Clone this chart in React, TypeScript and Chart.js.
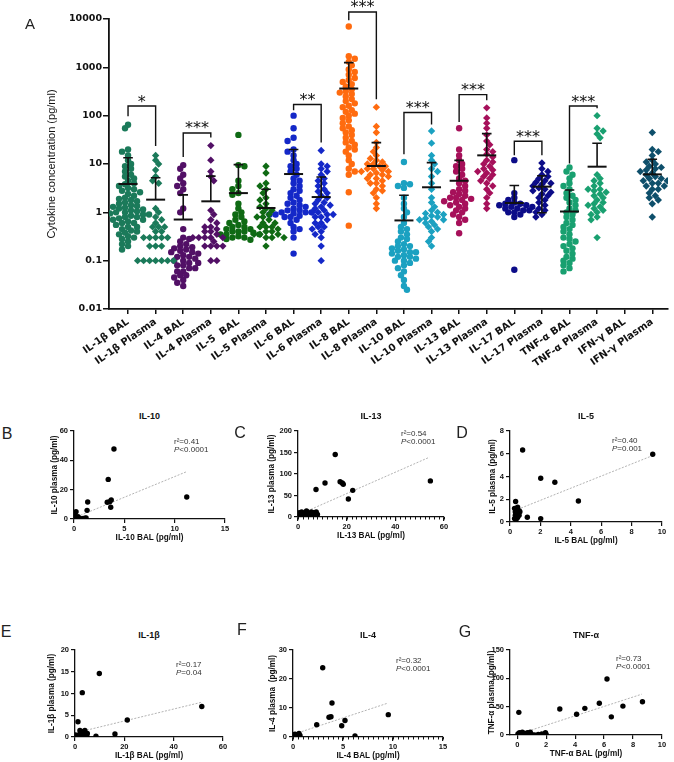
import React, { useEffect, useRef } from "react";
import { Chart, registerables } from "chart.js";

Chart.register(...registerables);

const TXT = "'Liberation Sans', Arial, Helvetica, sans-serif";
const WIDE = "'DejaVu Sans', 'Liberation Sans', sans-serif";

// ---------------- Panel A data ----------------
const categories = [
  "IL-1β BAL", "IL-1β Plasma", "IL-4 BAL", "IL-4 Plasma", "IL-5  BAL", "IL-5 Plasma",
  "IL-6 BAL", "IL-6 Plasma", "IL-8 BAL", "IL-8 Plasma", "IL-10 BAL", "IL-10 Plasma",
  "IL-13 BAL", "IL-13 Plasma", "IL-17 BAL", "IL-17 Plasma", "TNF-α BAL", "TNF-α Plasma",
  "IFN-γ BAL", "IFN-γ Plasma",
];
const yTickValues = [0.01, 0.1, 1, 10, 100, 1000, 10000];
const yTickLabels = ["0.01", "0.1", "1", "10", "100", "1000", "10000"];

const il1bBAL = [65, 55, 20, 18, 15, 12, 10, 9, 8, 7, 6, 5.5, 5, 4.5, 4, 3.8, 3.5, 3.2, 3, 2.8, 2.6, 2.4, 2.2, 2, 1.9, 1.8, 1.7, 1.6, 1.5, 1.4, 1.35, 1.3, 1.25, 1.2, 1.15, 1.1, 1.05, 1, 1, 0.95, 0.9, 0.9, 0.85, 0.8, 0.8, 0.75, 0.7, 0.7, 0.65, 0.6, 0.6, 0.55, 0.5, 0.5, 0.45, 0.42, 0.4, 0.38, 0.35, 0.32, 0.3, 0.28, 0.25, 0.22, 0.2, 0.17];
const il1bPlasma = [15, 12, 10, 7.5, 5.5, 4.5, 4, 1.2, 1, 0.8, 0.7, 0.6, 0.5, 0.5, 0.5, 0.4, 0.4, 0.3, 0.3, 0.3, 0.3, 0.3, 0.2, 0.2, 0.2, 0.1, 0.1, 0.1, 0.1, 0.1, 0.1, 0.1];
const il4BAL = [9.5, 8, 6, 5, 4, 3.5, 3, 2.5, 1.2, 1, 0.45, 0.3, 0.28, 0.25, 0.22, 0.2, 0.19, 0.18, 0.17, 0.16, 0.15, 0.15, 0.14, 0.13, 0.12, 0.12, 0.11, 0.1, 0.1, 0.09, 0.09, 0.08, 0.08, 0.07, 0.07, 0.06, 0.06, 0.05, 0.05, 0.045, 0.04, 0.035, 0.03];
const il4Plasma = [24, 12, 7, 5.5, 4.5, 1.1, 0.9, 0.7, 0.6, 0.5, 0.5, 0.45, 0.4, 0.4, 0.35, 0.3, 0.3, 0.3, 0.3, 0.3, 0.25, 0.2, 0.2, 0.2, 0.2, 0.1, 0.1];
const il5BAL = [40, 9.5, 9, 4.5, 3.5, 3, 2.5, 2.3, 1.5, 1.2, 1, 0.9, 0.8, 0.7, 0.65, 0.6, 0.55, 0.5, 0.5, 0.45, 0.45, 0.4, 0.4, 0.4, 0.38, 0.35, 0.35, 0.35, 0.32, 0.3, 0.3, 0.28, 0.27];
const il5Plasma = [9, 6.5, 4, 3.5, 3, 2.5, 2, 1.8, 1.5, 1.3, 1.2, 1.1, 1, 0.9, 0.8, 0.8, 0.7, 0.6, 0.6, 0.5, 0.5, 0.5, 0.45, 0.4, 0.4, 0.35, 0.35, 0.35, 0.3, 0.3, 0.3, 0.2];
const il6BAL = [100, 55, 35, 30, 20, 18, 15, 12, 10, 9, 8, 7, 6, 5, 4.5, 4, 3.5, 3, 2.8, 2.5, 2.2, 2, 1.8, 1.6, 1.5, 1.4, 1.3, 1.2, 1.1, 1.1, 1, 1, 1, 0.95, 0.9, 0.9, 0.85, 0.8, 0.8, 0.7, 0.6, 0.5, 0.45, 0.4, 0.3, 0.14];
const il6Plasma = [19, 10, 9, 8, 7, 6, 5, 4.5, 4, 3.5, 3, 2.7, 2.5, 2.2, 2, 1.8, 1.6, 1.5, 1.4, 1.3, 1.2, 1.1, 1, 1, 0.9, 0.9, 0.8, 0.8, 0.7, 0.6, 0.6, 0.5, 0.5, 0.45, 0.4, 0.35, 0.3, 0.2, 0.1];
const il8BAL = [7000, 1700, 1500, 1300, 1100, 900, 800, 700, 600, 550, 500, 450, 400, 350, 320, 300, 280, 250, 220, 200, 180, 160, 150, 130, 120, 110, 100, 90, 80, 70, 60, 55, 50, 45, 40, 35, 30, 28, 25, 22, 20, 18, 15, 12, 10, 8, 7, 6, 2.6, 0.53];
const il8Plasma = [150, 60, 45, 28, 22, 18, 15, 13, 12, 11, 10, 10, 9, 9, 8, 8, 7.5, 7, 7, 6.5, 6, 6, 5.5, 5, 5, 4.5, 4, 4, 3.5, 3, 2.8, 2.5, 2, 1.5, 1.2];
const il10BAL = [11, 4, 3.8, 3.5, 3.2, 2, 1.5, 1.2, 1, 0.8, 0.6, 0.5, 0.45, 0.4, 0.35, 0.3, 0.28, 0.25, 0.22, 0.2, 0.2, 0.18, 0.17, 0.16, 0.15, 0.15, 0.14, 0.13, 0.12, 0.12, 0.11, 0.1, 0.1, 0.09, 0.08, 0.07, 0.06, 0.05, 0.04, 0.03, 0.025];
const il10Plasma = [48, 27, 15, 12, 10, 8, 7, 5.5, 4, 3, 2, 1.6, 1.3, 1.1, 1, 0.95, 0.9, 0.85, 0.8, 0.75, 0.7, 0.7, 0.65, 0.6, 0.55, 0.5, 0.45, 0.4, 0.3, 0.25, 0.2];
const il13BAL = [55, 20, 15, 12, 10, 9, 8, 7, 6, 5, 4.5, 4, 3.5, 3, 2.8, 2.6, 2.4, 2.2, 2, 2, 1.9, 1.8, 1.7, 1.6, 1.5, 1.4, 1.3, 1.2, 1.1, 1, 0.9, 0.8, 0.7, 0.6, 0.37];
const il13Plasma = [145, 90, 70, 55, 40, 30, 25, 20, 18, 16, 14, 12, 11, 10, 9, 8, 7.5, 7, 6.5, 6, 5.5, 5, 4.5, 4, 3.5, 3, 2.5, 2, 1.5, 1.2];
const il17BAL = [12, 2.5, 2, 1.8, 1.6, 1.5, 1.5, 1.4, 1.4, 1.3, 1.3, 1.2, 1.2, 1.1, 1.1, 1, 1, 0.9, 0.8, 0.065];
const il17Plasma = [10.5, 8, 7, 6, 5.5, 5, 4.5, 4.2, 4, 3.8, 3.5, 3.2, 3, 2.8, 2.6, 2.4, 2.2, 2, 1.8, 1.6, 1.4, 1.2, 1.1, 1, 0.9, 0.8];
const tnfBAL = [8.5, 7, 6, 5, 4, 3.5, 3, 2.5, 2.2, 2, 1.8, 1.6, 1.4, 1.2, 1.1, 1, 0.9, 0.8, 0.7, 0.6, 0.55, 0.5, 0.45, 0.4, 0.35, 0.3, 0.28, 0.25, 0.22, 0.2, 0.18, 0.16, 0.14, 0.12, 0.11, 0.1, 0.09, 0.08, 0.07, 0.06];
const tnfPlasma = [100, 55, 48, 42, 35, 6, 5, 4.5, 4, 3.5, 3, 3, 2.8, 2.6, 2.4, 2.2, 2, 1.8, 1.6, 1.5, 1.4, 1.3, 1.2, 1.1, 1, 0.9, 0.8, 0.7, 0.3];
const ifngBAL: number[] = [];
const ifngPlasma = [45, 20, 18, 15, 12, 11, 10, 9, 8.5, 8, 7.5, 7, 6.5, 6, 5.5, 5, 5, 4.5, 4.5, 4, 4, 3.5, 3.5, 3, 3, 2.5, 2.2, 2, 1.8, 1.5, 0.8];

const seriesValues = [il1bBAL, il1bPlasma, il4BAL, il4Plasma, il5BAL, il5Plasma, il6BAL, il6Plasma, il8BAL, il8Plasma, il10BAL, il10Plasma, il13BAL, il13Plasma, il17BAL, il17Plasma, tnfBAL, tnfPlasma, ifngBAL, ifngPlasma];

const groupMeans = [3.86, 1.83, 0.71, 1.69, 2.5, 1.23, 6.2, 2.07, 364, 9.1, 0.68, 3.3, 4.5, 15.1, 1.56, 3.4, 1.04, 8.8, null, 6.1];
const groupSdUpper = [13.5, 5.2, 2.3, 5.6, 9.7, 3.0, 20, 5.4, 1254, 27.7, 2.25, 10.7, 11.9, 42.6, 3.6, 5.7, 2.9, 26.8, null, 12.5];
const groupSdLower = [null, null, null, null, null, null, null, null, null, null, null, null, null, null, null, 0.98, null, null, null, null];

// [left group, right group, top, left foot, right foot, label]
const sigBrackets: [number, number, number, number, number, string][] = [
  [0, 1, 158, 97, 23.6, "*"],
  [2, 3, 43.9, 14, 35.2, "***"],
  [6, 7, 170, 129, 27.7, "**"],
  [8, 9, 14000, 9400, 219, "***"],
  [10, 11, 116, 15.9, 66, "***"],
  [12, 13, 273, 74, 208, "***"],
  [14, 15, 29.5, 15.1, 15.1, "***"],
  [16, 17, 158, 10.3, 142, "***"],
];

const seriesColors = [
  "#1b7a5a", "#1b7a5a", "#521066", "#521066", "#0f6a14", "#0f6a14", "#1428c8", "#1428c8",
  "#ff6b0f", "#ff6b0f", "#1ba1c1", "#1ba1c1", "#a6105a", "#a6105a", "#0c0c88", "#0c0c88",
  "#19a070", "#19a070", "#0e4f6b", "#0e4f6b",
];

// ---------------- Panels B-G data: [BAL, plasma] ----------------
const il10Pairs = [[3.97, 47.7], [3.4, 27], [1.36, 11.6], [1.3, 5.9], [3.3, 11.4], [3.7, 13], [3.55, 11.8], [3.65, 8], [11.2, 15], [0.2, 5], [0.1, 2], [0.2, 1], [0.3, 0.5], [0.6, 0.4], [0.9, 0.3], [1.2, 0.8], [0.05, 0.2], [0.15, 0.1], [0.4, 1.6], [1.1, 0.5]];
const il10Fit = [0, 0.7, 11.2, 32.3];
const il13Pairs = [[15.3, 145.5], [11.1, 79], [7.4, 64], [17.3, 82], [18.2, 79], [18.6, 76], [22.5, 62], [20.7, 42], [54.4, 84], [0.5, 10], [1, 5], [1.5, 12], [2, 8], [2.5, 3], [3, 10], [3.5, 14], [4, 6], [4.5, 9], [5, 2], [5.5, 12], [6, 5], [6.5, 10], [7, 3], [7.5, 12], [8, 6], [0.2, 2], [1.2, 0], [2.8, 1], [4.2, 0]];
const il13Fit = [0, 4.6, 54, 139];
const il5Pairs = [[0.83, 6.33], [9.39, 5.95], [2.02, 3.84], [2.95, 3.5], [4.5, 1.85], [0.37, 1.8], [2.02, 0.3], [1.14, 0.42], [0.3, 1.2], [0.35, 0.9], [0.4, 0.7], [0.45, 0.5], [0.5, 1.3], [0.55, 0.8], [0.6, 0.6], [0.3, 0.3], [0.4, 0.2], [0.5, 0.4], [0.6, 1], [0.65, 0.9], [0.45, 1.1], [0.35, 0.6]];
const il5Fit = [0.3, 1.0, 9.5, 5.9];
const il1bPairs = [[9.86, 14.6], [2.96, 10.2], [1.2, 3.5], [21.2, 3.9], [51.4, 7], [16.2, 0.7], [8.5, 0.2], [0.5, 0.3], [1, 0.1], [1.5, 0.5], [2, 1.5], [2.5, 0.2], [3, 1.2], [3.5, 0.5], [4, 1.5], [4.5, 0.3], [5, 0.8], [0.2, 0.5], [1.8, 0.2], [3.2, 0.1], [2.2, 0.8], [4.8, 0.1]];
const il1bFit = [2, 1.2, 51.4, 8];
const il4Pairs = [[2.97, 23.9], [3.9, 11.7], [3.6, 6.8], [3.8, 7], [2.37, 4.2], [5.2, 5.7], [4.87, 3.9], [6.2, 0.4], [9.53, 7.7], [0.1, 0.5], [0.2, 1], [0.3, 0.2], [0.4, 0.8], [0.5, 0.3], [0.6, 1.2], [0.1, 0], [0.2, 0.1], [0.7, 0.5], [0.35, 0.6]];
const il4Fit = [0.2, 1.1, 9.5, 11.7];
const tnfPairs = [[6.2, 98.8], [8.65, 58.8], [7.3, 51], [6.5, 32], [5.67, 56], [4.67, 47], [4.1, 36.5], [2.94, 45.8], [0.11, 40], [0.05, 2], [0.15, 4], [0.25, 1], [0.35, 5], [0.45, 3], [0.55, 0], [0.7, 4], [0.85, 2], [1, 1], [1.2, 0], [1.45, 1], [1.7, 2], [1.95, 4], [0.3, 0], [0.6, 2], [0.9, 5], [2, 1], [1.6, 0]];
const tnfFit = [0.28, 3, 8.6, 72];

const panels = [
  { letter: "B", title: "IL-10", xTitle: "IL-10 BAL (pg/ml)", yTitle: "IL-10 plasma (pg/ml)", pairs: il10Pairs, fit: il10Fit, r2: "0.41", p: "<0.0001", xRange: [0, 15], xTicks: [0, 5, 10, 15], yRange: [0, 60], yTicks: [0, 20, 40, 60], minor: 0, box: { l: 74, r: 225, t: 431, b: 519, yw: 28 }, letterPos: [7, 434], statPos: [174, 442] },
  { letter: "C", title: "IL-13", xTitle: "IL-13 BAL (pg/ml)", yTitle: "IL-13 plasma (pg/ml)", pairs: il13Pairs, fit: il13Fit, r2: "0.54", p: "<0.0001", xRange: [0, 60], xTicks: [0, 20, 40, 60], yRange: [0, 200], yTicks: [0, 50, 100, 150, 200], minor: 2, box: { l: 298, r: 444, t: 431, b: 517, yw: 35 }, letterPos: [240, 433], statPos: [401, 434] },
  { letter: "D", title: "IL-5", xTitle: "IL-5 BAL (pg/ml)", yTitle: "IL-5 plasma (pg/ml)", pairs: il5Pairs, fit: il5Fit, r2: "0.40", p: "=0.001", xRange: [0, 10], xTicks: [0, 2, 4, 6, 8, 10], yRange: [0, 8], yTicks: [0, 2, 4, 6, 8], minor: 0, box: { l: 510, r: 662, t: 431, b: 522, yw: 26 }, letterPos: [462, 433], statPos: [612, 441] },
  { letter: "E", title: "IL-1β", xTitle: "IL-1β BAL (pg/ml)", yTitle: "IL-1β plasma (pg/ml)", pairs: il1bPairs, fit: il1bFit, r2: "0.17", p: "=0.04", xRange: [0, 60], xTicks: [0, 20, 40, 60], yRange: [0, 20], yTicks: [0, 5, 10, 15, 20], minor: 0, box: { l: 75, r: 223, t: 650, b: 737, yw: 32 }, letterPos: [6, 632], statPos: [176, 665] },
  { letter: "F", title: "IL-4", xTitle: "IL-4 BAL (pg/ml)", yTitle: "IL-4 plasma  (pg/ml)", pairs: il4Pairs, fit: il4Fit, r2: "0.32", p: "<0.0001", xRange: [0, 15], xTicks: [0, 5, 10, 15], yRange: [0, 30], yTicks: [0, 10, 20, 30], minor: 0.5, box: { l: 293, r: 443, t: 650, b: 737, yw: 29 }, letterPos: [242, 630], statPos: [396, 661] },
  { letter: "G", title: "TNF-α", xTitle: "TNF-α BAL (pg/ml)", yTitle: "TNF-α plasma (pg/ml)", pairs: tnfPairs, fit: tnfFit, r2: "0.73", p: "<0.0001", xRange: [-0.5, 10], xTicks: [0, 2, 4, 6, 8, 10], yRange: [0, 150], yTicks: [0, 50, 100, 150], minor: 0, box: { l: 510, r: 662, t: 650, b: 735, yw: 27 }, letterPos: [465, 632], statPos: [616, 659] },
];

// ---------------- helpers ----------------
function swarm(values: number[], center: number) {
  const PX_PER_DECADE = 48.33;
  const PX_PER_CATEGORY = 27.59;
  const STEP = 3.0;
  const MIN_DIST = 4.6;
  const sorted = [...values].sort((a, b) => b - a);
  const placed: { dx: number; py: number }[] = [];
  return sorted.map((v, idx) => {
    const py = -Math.log10(v) * PX_PER_DECADE;
    const sign = idx % 2 === 0 ? 1 : -1;
    let dx = 0;
    for (let k = 0; k < 80; k++) {
      const cand = k === 0 ? 0 : (k % 2 === 1 ? sign : -sign) * Math.ceil(k / 2) * STEP;
      const ok = placed.every((p) => (p.dx - cand) ** 2 + (p.py - py) ** 2 >= MIN_DIST * MIN_DIST);
      if (ok) {
        dx = cand;
        break;
      }
    }
    placed.push({ dx, py });
    return { x: center + dx / PX_PER_CATEGORY, y: v };
  });
}

const statsPlugin = {
  id: "groupStats",
  afterDatasetsDraw(chart: any) {
    const { ctx } = chart;
    const xs = chart.scales.x;
    const ys = chart.scales.y;
    ctx.save();
    ctx.strokeStyle = "#111";
    ctx.lineCap = "butt";
    groupMeans.forEach((m, i) => {
      if (m == null) return;
      const cx = xs.getPixelForValue(i);
      const ym = ys.getPixelForValue(m);
      const yu = ys.getPixelForValue(groupSdUpper[i] as number);
      const lo = groupSdLower[i];
      const yl = lo == null ? ym : ys.getPixelForValue(lo);
      ctx.lineWidth = 1.6;
      ctx.beginPath();
      ctx.moveTo(cx, yu);
      ctx.lineTo(cx, yl);
      ctx.moveTo(cx - 4.8, yu);
      ctx.lineTo(cx + 4.8, yu);
      if (lo != null) {
        ctx.moveTo(cx - 4.8, yl);
        ctx.lineTo(cx + 4.8, yl);
      }
      ctx.stroke();
      ctx.lineWidth = 2;
      ctx.beginPath();
      ctx.moveTo(cx - 9.5, ym);
      ctx.lineTo(cx + 9.5, ym);
      ctx.stroke();
    });
    ctx.lineWidth = 1.4;
    ctx.font = `16px ${WIDE}`;
    ctx.fillStyle = "#111";
    ctx.textAlign = "center";
    ctx.textBaseline = "alphabetic";
    sigBrackets.forEach(([a, b, top, fa, fb, label]) => {
      const xa = xs.getPixelForValue(a);
      const xb = xs.getPixelForValue(b);
      const yt = ys.getPixelForValue(top);
      ctx.beginPath();
      ctx.moveTo(xa, ys.getPixelForValue(fa));
      ctx.lineTo(xa, yt);
      ctx.lineTo(xb, yt);
      ctx.lineTo(xb, ys.getPixelForValue(fb));
      ctx.stroke();
      ctx.fillText(label, (xa + xb) / 2, yt + 0.5);
    });
    ctx.restore();
  },
};

const minorTickPlugin = {
  id: "minorTicks",
  afterDraw(chart: any, _args: any, opts: any) {
    const step = opts && opts.step;
    if (!step) return;
    const { ctx, chartArea } = chart;
    const xs = chart.scales.x;
    ctx.save();
    ctx.strokeStyle = "#111";
    ctx.lineWidth = 1;
    for (let v = 0; v <= xs.max + 1e-9; v += step) {
      const px = Math.round(xs.getPixelForValue(v)) + 0.5;
      ctx.beginPath();
      ctx.moveTo(px, chartArea.bottom);
      ctx.lineTo(px, chartArea.bottom + 2.5);
      ctx.stroke();
    }
    ctx.restore();
  },
};

function MainChart() {
  const ref = useRef<HTMLCanvasElement>(null);
  useEffect(() => {
    const datasets = categories.map((label, i) => ({
      label,
      data: swarm(seriesValues[i], i),
      pointStyle: i % 2 === 0 ? "circle" : "rectRot",
      pointRadius: i % 2 === 0 ? 3.2 : 3.7,
      pointBackgroundColor: seriesColors[i],
      backgroundColor: seriesColors[i],
      borderColor: seriesColors[i],
      pointBorderWidth: 0,
    }));
    const chart = new Chart(ref.current as HTMLCanvasElement, {
      type: "scatter",
      data: { datasets } as any,
      options: {
        responsive: false,
        animation: false,
        layout: { padding: { top: 19, right: 6, left: 0, bottom: 0 } },
        plugins: { legend: { display: false }, tooltip: { enabled: false } },
        scales: {
          x: {
            type: "linear",
            min: -0.69,
            max: 19.57,
            afterBuildTicks: (s: any) => {
              s.ticks = categories.map((_, i) => ({ value: i }));
            },
            afterFit: (s: any) => {
              s.height = 71;
            },
            ticks: {
              autoSkip: false,
              minRotation: 35,
              maxRotation: 35,
              padding: 2,
              color: "#111",
              font: { family: WIDE, weight: "bold", size: 10 },
              callback: (v: any) => categories[v as number],
            },
            grid: { drawOnChartArea: false, drawTicks: true, tickLength: 5, color: "#111", lineWidth: 1.5 },
            border: { color: "#111", width: 1.8 },
          },
          y: {
            type: "logarithmic",
            min: 0.01,
            max: 10000,
            afterBuildTicks: (s: any) => {
              s.ticks = yTickValues.map((v) => ({ value: v }));
            },
            afterFit: (s: any) => {
              s.width = 109;
            },
            ticks: {
              padding: 1,
              color: "#111",
              font: { family: WIDE, weight: "bold", size: 9.5 },
              callback: (_v: any, idx: number) => yTickLabels[idx],
            },
            grid: { drawOnChartArea: false, drawTicks: true, tickLength: 6, color: "#111", lineWidth: 1.5 },
            border: { color: "#111", width: 1.8 },
            title: {
              display: true,
              text: "Cytokine concentration (pg/ml)",
              color: "#111",
              font: { family: TXT, size: 11 },
              padding: { top: 45.4, bottom: 0 },
            },
          },
        },
      } as any,
      plugins: [statsPlugin],
    });
    return () => chart.destroy();
  }, []);
  return <canvas ref={ref} width={674} height={380} style={{ position: "absolute", left: 0, top: 0, width: 674, height: 380 }} />;
}

function TextAt({ x, y, children, style }: any) {
  return (
    <div
      style={{
        position: "absolute",
        left: x,
        top: y,
        transform: "translate(-50%, -50%)",
        whiteSpace: "nowrap",
        lineHeight: 1,
        fontFamily: TXT,
        color: "#111",
        ...style,
      }}
    >
      {children}
    </div>
  );
}

function ScatterPanel({ p }: any) {
  const ref = useRef<HTMLCanvasElement>(null);
  const { l, r, t, b, yw } = p.box;
  const cLeft = l - yw;
  const cTop = t - 8;
  const cW = r + 10 - cLeft;
  const cH = b + 26 - cTop;
  useEffect(() => {
    const tickFont = { family: TXT, weight: "bold", size: 7.5 };
    const titleFont = { family: TXT, weight: "bold", size: 8.2 };
    const chart = new Chart(ref.current as HTMLCanvasElement, {
      type: "scatter",
      data: {
        datasets: [
          {
            data: p.pairs.map(([x, y]: number[]) => ({ x, y })),
            pointRadius: 2.7,
            pointBackgroundColor: "#000",
            backgroundColor: "#000",
            borderColor: "#000",
            pointBorderWidth: 0,
          },
          {
            data: [
              { x: p.fit[0], y: p.fit[1] },
              { x: p.fit[2], y: p.fit[3] },
            ],
            showLine: true,
            borderColor: "#a0a0a0",
            borderWidth: 0.8,
            borderDash: [2, 1.5],
            pointRadius: 0,
          },
        ],
      } as any,
      options: {
        responsive: false,
        animation: false,
        layout: { padding: { top: 8, right: 10, left: 0, bottom: 0 } },
        plugins: { legend: { display: false }, tooltip: { enabled: false }, minorTicks: { step: p.minor } },
        scales: {
          x: {
            type: "linear",
            min: p.xRange[0],
            max: p.xRange[1],
            afterBuildTicks: (s: any) => {
              s.ticks = p.xTicks.map((v: number) => ({ value: v }));
            },
            afterFit: (s: any) => {
              s.height = 26;
            },
            ticks: { autoSkip: false, maxRotation: 0, padding: 1, color: "#111", font: tickFont, callback: (v: any) => String(v) },
            grid: { drawOnChartArea: false, drawTicks: true, tickLength: 4, color: "#111", lineWidth: 1.2 },
            border: { color: "#111", width: 1.3 },
            title: { display: true, text: p.xTitle, color: "#111", font: titleFont, padding: { top: 0, bottom: 2 } },
          },
          y: {
            type: "linear",
            min: p.yRange[0],
            max: p.yRange[1],
            afterBuildTicks: (s: any) => {
              s.ticks = p.yTicks.map((v: number) => ({ value: v }));
            },
            afterFit: (s: any) => {
              s.width = yw;
            },
            ticks: { autoSkip: false, padding: 2, color: "#111", font: tickFont, callback: (v: any) => String(v) },
            grid: { drawOnChartArea: false, drawTicks: true, tickLength: 4, color: "#111", lineWidth: 1.2 },
            border: { color: "#111", width: 1.3 },
            title: { display: true, text: p.yTitle, color: "#111", font: titleFont, padding: { top: 4, bottom: 0 } },
          },
        },
      } as any,
      plugins: [minorTickPlugin],
    });
    return () => chart.destroy();
  }, []);
  return (
    <>
      <canvas ref={ref} width={cW} height={cH} style={{ position: "absolute", left: cLeft, top: cTop, width: cW, height: cH }} />
      <TextAt x={(l + r) / 2} y={t - 15} style={{ fontWeight: "bold", fontSize: 9 }}>
        {p.title}
      </TextAt>
      <TextAt x={p.letterPos[0]} y={p.letterPos[1]} style={{ fontSize: 16, color: "#222" }}>
        {p.letter}
      </TextAt>
      <div
        style={{
          position: "absolute",
          left: p.statPos[0],
          top: p.statPos[1] - 4.5,
          fontFamily: TXT,
          fontSize: 8,
          lineHeight: "8.5px",
          color: "#333",
          whiteSpace: "nowrap",
        }}
      >
        <div>r²={p.r2}</div>
        <div>
          <i>P</i>
          {p.p}
        </div>
      </div>
    </>
  );
}

export default function App() {
  return (
    <div style={{ position: "absolute", left: 0, top: 0, width: 674, height: 762, background: "#fff", overflow: "hidden" }}>
      <MainChart />
      <TextAt x={30} y={23} style={{ fontSize: 15, color: "#222" }}>
        A
      </TextAt>
      {panels.map((p) => (
        <ScatterPanel key={p.letter} p={p} />
      ))}
    </div>
  );
}
